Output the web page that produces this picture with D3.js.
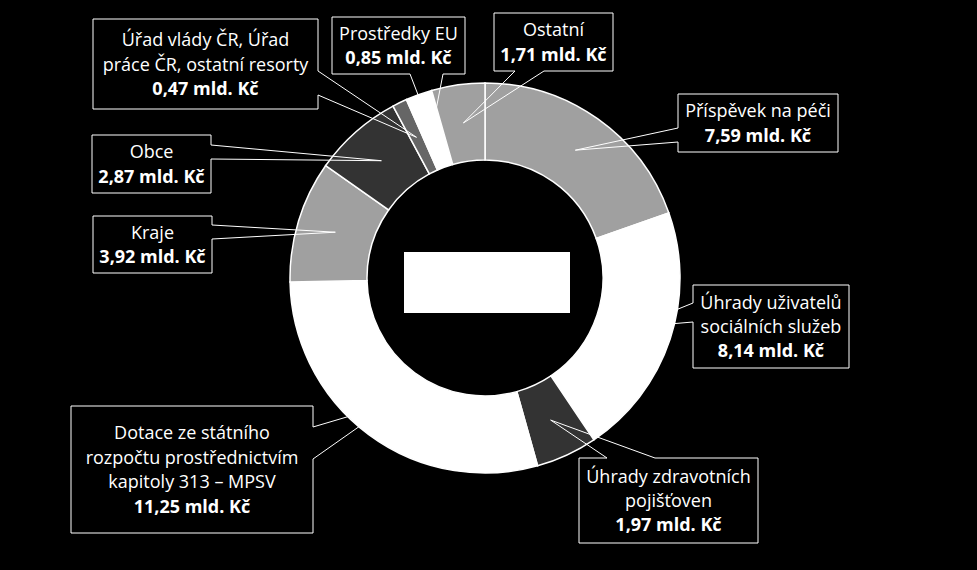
<!DOCTYPE html>
<html>
<head>
<meta charset="utf-8">
<script src="https://cdn.jsdelivr.net/npm/d3@7"></script>
<style>
  html, body { margin: 0; padding: 0; background: #000; }
  svg { display: block; }
  text { font-family: "Open Sans", "Noto Sans", sans-serif; fill: #fff; }
</style>
</head>
<body>
<script>
// Donut of funding sources, billions CZK (mld. Kč), clockwise from the top

var categories = [
    "Příspěvek na péči",
    "Úhrady uživatelů sociálních služeb",
    "Úhrady zdravotních pojišťoven",
    "Dotace ze státního rozpočtu prostřednictvím kapitoly 313 – MPSV",
    "Kraje",
    "Obce",
    "Úřad vlády ČR, Úřad práce ČR, ostatní resorty",
    "Prostředky EU",
    "Ostatní"
];
var values = [7.59, 8.14, 1.97, 11.25, 3.92, 2.87, 0.47, 0.85, 1.71];

// how each category name is broken into lines inside its callout
var labelLines = [
    ["Příspěvek na péči"],
    ["Úhrady uživatelů", "sociálních služeb"],
    ["Úhrady zdravotních", "pojišťoven"],
    ["Dotace ze státního", "rozpočtu prostřednictvím", "kapitoly 313 – MPSV"],
    ["Kraje"],
    ["Obce"],
    ["Úřad vlády ČR, Úřad", "práce ČR, ostatní resorty"],
    ["Prostředky EU"],
    ["Ostatní"]
];

var sliceColors = ["#a0a0a0", "#ffffff", "#333333", "#ffffff", "#a0a0a0",
                   "#333333", "#666666", "#ffffff", "#a0a0a0"];

// callout boxes: [x, y, w, h], side the pointer leaves from, two points on that side
var callouts = [
    { box: [678, 94, 160, 58],  side: "left",   at: [128, 142] },
    { box: [693, 285, 156, 83], side: "left",   at: [303, 322] },
    { box: [579, 458, 179, 85], side: "top",    at: [607, 655] },
    { box: [71, 406, 242, 127], side: "right",  at: [427, 459] },
    { box: [93, 216, 119, 57],  side: "right",  at: [225, 239] },
    { box: [92, 135, 119, 58],  side: "right",  at: [145, 159] },
    { box: [93, 19, 225, 90],   side: "right",  at: [71, 95] },
    { box: [332, 17, 133, 57],  side: "bottom", at: [410, 443] },
    { box: [494, 13, 119, 58],  side: "bottom", at: [515, 544] }
];

var WIDTH = 977, HEIGHT = 570;
var CX = 485, CY = 278;
var OUTER = 195, INNER = 118;
var LINE_H = 24.4;

var svg = d3.select("body").append("svg")
    .attr("width", WIDTH)
    .attr("height", HEIGHT);

svg.append("rect")
    .attr("width", WIDTH)
    .attr("height", HEIGHT)
    .attr("fill", "#000");

var pie = d3.pie().sort(null).value(function(d) { return d; });
var arc = d3.arc().innerRadius(INNER).outerRadius(OUTER);
var arcs = pie(values);

var donut = svg.append("g").attr("transform", "translate(" + CX + "," + CY + ")");

donut.selectAll("path.slice")
    .data(arcs)
    .enter()
    .append("path")
    .attr("class", "slice")
    .attr("d", arc)
    .attr("fill", function(d, i) { return sliceColors[i]; })
    .attr("stroke", "#fff")
    .attr("stroke-width", 1.5);

// white block in the hole
donut.append("rect")
    .attr("x", -81)
    .attr("y", -26)
    .attr("width", 166)
    .attr("height", 61)
    .attr("fill", "#fff");

function formatValue(v) {
    return v.toFixed(2).replace(".", ",") + " mld. Kč";
}

// outline of box with a wedge pointing at the slice centroid
function calloutPath(c, tip) {
    var x0 = c.box[0], y0 = c.box[1], x1 = x0 + c.box[2], y1 = y0 + c.box[3];
    var a = c.at[0], b = c.at[1];
    var t = tip[0] + "," + tip[1];
    if (c.side === "left") {
        return "M" + x0 + "," + b + "L" + t + "L" + x0 + "," + a +
            "L" + x0 + "," + y0 + "L" + x1 + "," + y0 + "L" + x1 + "," + y1 +
            "L" + x0 + "," + y1 + "Z";
    }
    if (c.side === "right") {
        return "M" + x1 + "," + a + "L" + t + "L" + x1 + "," + b +
            "L" + x1 + "," + y1 + "L" + x0 + "," + y1 + "L" + x0 + "," + y0 +
            "L" + x1 + "," + y0 + "Z";
    }
    if (c.side === "top") {
        return "M" + a + "," + y0 + "L" + t + "L" + b + "," + y0 +
            "L" + x1 + "," + y0 + "L" + x1 + "," + y1 + "L" + x0 + "," + y1 +
            "L" + x0 + "," + y0 + "Z";
    }
    return "M" + b + "," + y1 + "L" + t + "L" + a + "," + y1 +
        "L" + x0 + "," + y1 + "L" + x0 + "," + y0 + "L" + x1 + "," + y0 +
        "L" + x1 + "," + y1 + "Z";
}

var labels = svg.append("g").attr("class", "labels");

arcs.forEach(function(d, i) {
    var c = callouts[i];
    var cen = arc.centroid(d);
    var tip = [CX + cen[0], CY + cen[1]];

    var g = labels.append("g");

    g.append("rect")
        .attr("x", c.box[0])
        .attr("y", c.box[1])
        .attr("width", c.box[2])
        .attr("height", c.box[3])
        .attr("fill", "#000");

    g.append("path")
        .attr("d", calloutPath(c, tip))
        .attr("fill", "none")
        .attr("stroke", "#fff")
        .attr("stroke-width", 1);

    var lines = labelLines[i].concat([formatValue(values[i])]);
    var midX = c.box[0] + c.box[2] / 2;
    var midY = c.box[1] + c.box[3] / 2;
    var firstBase = midY - (lines.length - 1) * LINE_H / 2 + 6.5;

    g.selectAll("text")
        .data(lines)
        .enter()
        .append("text")
        .attr("x", midX)
        .attr("y", function(t, k) { return firstBase + k * LINE_H; })
        .attr("text-anchor", "middle")
        .attr("font-size", 18)
        .attr("font-weight", function(t, k) { return k === lines.length - 1 ? 700 : 400; })
        .text(function(t) { return t; });
});
</script>
</body>
</html>
